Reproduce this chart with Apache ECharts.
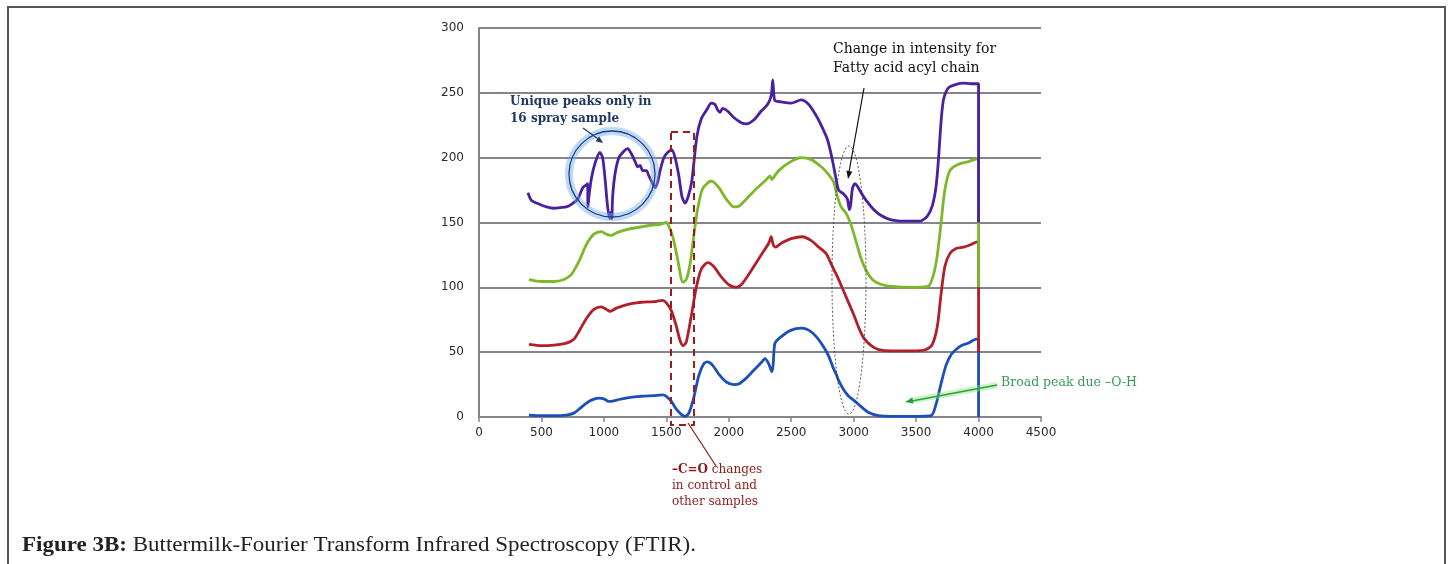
<!DOCTYPE html>
<html>
<head>
<meta charset="utf-8">
<script src="https://cdn.jsdelivr.net/npm/echarts@6/dist/echarts.min.js"></script>
<style>
html,body{margin:0;padding:0;background:#fff;}
#main{width:1453px;height:564px;}
</style>
</head>
<body>
<div id="main"></div>
<script>
// Tick values
var xTicks = [0, 500, 1000, 1500, 2000, 2500, 3000, 3500, 4000, 4500];
var yTicks = [0, 50, 100, 150, 200, 250, 300];

// Series data: [wavenumber, value]
var blueData = [[400,1.5],[500,1],[600,1],[700,1.5],[760,3],[800,6],[850,10],[900,13],[960,14.5],[1000,14],[1040,12],[1080,12.5],[1120,13.5],[1200,15],[1300,16],[1400,16.5],[1470,17],[1500,16],[1540,12],[1580,6],[1620,2],[1650,0.5],[1680,3],[1720,15],[1760,32],[1800,41],[1830,42.5],[1870,40],[1920,33],[1980,27],[2040,25],[2080,25.5],[2140,30],[2200,36],[2260,42],[2290,45],[2320,41],[2345,35],[2355,40],[2370,57],[2420,62],[2500,67],[2580,68.5],[2640,67],[2700,62],[2760,54],[2800,47],[2840,37],[2860,33],[2880,28],[2920,21],[2960,16],[3000,13],[3060,8],[3120,3.5],[3200,1],[3300,0.5],[3500,0.5],[3620,1],[3660,10],[3700,26],[3740,40],[3780,48],[3820,52],[3860,55],[3920,57],[3980,60],[4000,60],[4000,0]];

var redData = [[400,56],[500,55],[600,55.5],[700,57],[760,60],[800,66],[860,76],[920,83],[980,85],[1020,83],[1050,81.5],[1100,84],[1200,87],[1300,88.5],[1400,89],[1470,90],[1500,88],[1540,82],[1580,70],[1610,59],[1635,55],[1660,58],[1700,78],[1740,100],[1780,114],[1830,119],[1880,116],[1940,108],[2000,102],[2060,100],[2100,102],[2160,110],[2220,119],[2280,128],[2320,134],[2340,139],[2355,133],[2375,131],[2420,134],[2500,137.5],[2590,139],[2660,136],[2720,131],[2780,126],[2820,118],[2850,112],[2880,106],[2920,97],[2960,88],[3000,79],[3040,69],[3080,61],[3140,55],[3200,52],[3300,51],[3500,51],[3580,52],[3630,56],[3670,70],[3700,95],[3730,116],[3770,126],[3820,130],[3880,131],[3940,133],[3990,135],[4000,135],[4000,50]];

var greenData = [[400,106],[450,105],[500,104.5],[600,104.5],[680,106],[740,110],[800,120],[860,133],[920,141],[980,143],[1020,141],[1060,140],[1100,142],[1180,144.5],[1260,146],[1350,147.5],[1450,148.5],[1500,150],[1520,147],[1552,139],[1592,121],[1632,104],[1660,106],[1690,118],[1720,140],[1750,160],[1790,176],[1860,182],[1920,177],[1980,168],[2040,162],[2080,162.5],[2140,168],[2220,176],[2300,183],[2330,186],[2345,183],[2360,185],[2400,190],[2480,196],[2580,200],[2660,198.5],[2740,193],[2800,187],[2840,181],[2870,170],[2900,162],[2940,157],[2980,148],[3020,135],[3060,122],[3100,113],[3150,106],[3200,103],[3280,101],[3500,100],[3600,101],[3640,110],[3670,125],[3700,150],[3730,175],[3770,190],[3840,195],[3920,197],[3990,199],[4000,199],[4000,100]];

var purpleData = [[392,173],[420,167],[460,165],[540,162],[600,161],[650,161.5],[700,162],[740,164],[790,168],[832,177],[860,179],[870,180],[872,162],[880,170],[900,184],[930,196],[968,204],[990,200],[1010,183],[1030,162],[1048,153],[1058,158],[1064,153],[1070,170],[1090,188],[1120,200],[1160,205],[1190,207],[1220,203],[1250,197],[1270,193],[1290,194],[1310,190],[1340,190],[1360,186],[1390,180],[1410,177],[1430,181],[1450,190],[1480,200],[1510,204],[1544,206],[1570,200],[1600,186],[1625,170],[1650,165],[1675,170],[1704,182],[1744,216],[1780,230],[1824,237],[1860,242],[1890,241],[1910,237],[1930,235],[1950,238],[1990,236],[2040,231],[2100,227],[2140,226],[2200,229],[2260,236],[2310,241],[2340,248],[2352,260],[2360,250],[2370,244],[2420,243],[2500,242],[2580,244.5],[2640,241],[2690,234],[2730,227],[2790,214],[2830,198],[2860,183],[2880,175],[2920,172],[2950,168],[2965,160],[2975,163],[2990,176],[3010,180],[3030,178],[3060,173],[3100,167],[3160,160],[3210,156],[3300,152],[3420,151],[3530,151],[3590,155],[3630,163],[3660,178],[3680,200],[3700,228],[3720,245],[3760,254],[3820,256.5],[3880,257.5],[3940,257],[3990,257],[4000,257],[4000,150]];

var chart = echarts.init(document.getElementById('main'), null, {renderer: 'canvas'});

var gridCol = '#85858f';
var serif = '"DejaVu Serif", serif';

function arrowHead(x1, y1, x2, y2, len, w, color) {
  var a = Math.atan2(y2 - y1, x2 - x1);
  var bx = x2 - len * Math.cos(a), by = y2 - len * Math.sin(a);
  var px = -Math.sin(a) * w, py = Math.cos(a) * w;
  return {type: 'polygon', z: 100, shape: {points: [[x2, y2], [bx + px, by + py], [bx - px, by - py]]}, style: {fill: color}};
}

var graphics = [
  // frame
  {type: 'rect', z: 100, shape: {x: 8, y: 7, width: 1437, height: 570}, style: {fill: 'none', stroke: '#555', lineWidth: 2}},
  // circle glow + circle
  {type: 'circle', z: 99, shape: {cx: 612, cy: 174, r: 43}, style: {fill: 'none', stroke: 'rgba(110,170,235,0.45)', lineWidth: 8}},
  {type: 'circle', z: 100, shape: {cx: 612, cy: 174, r: 43}, style: {fill: 'none', stroke: '#1f3d7a', lineWidth: 1.3}},
  // Unique peaks text
  {type: 'text', z: 100, style: {x: 510, y: 93, text: 'Unique peaks only in\n16 spray sample', font: 'bold 12px ' + serif, fill: '#1f3864', lineHeight: 17}},
  {type: 'line', z: 100, shape: {x1: 583, y1: 128, x2: 601, y2: 141}, style: {stroke: '#1f3864', lineWidth: 1.2}},
  arrowHead(583, 128, 603, 143, 7, 3, '#1f3864'),
  // red dashed rectangle
  {type: 'rect', z: 100, shape: {x: 671, y: 132, width: 23, height: 293}, style: {fill: 'none', stroke: '#9b1c1c', lineWidth: 2, lineDash: [7, 5]}},
  {type: 'line', z: 100, shape: {x1: 688, y1: 423, x2: 716, y2: 466}, style: {stroke: '#8b1a1a', lineWidth: 1.2}},
  {type: 'text', z: 100, style: {x: 672, y: 462, text: '{b|–C=O} changes\nin control and\nother samples', font: '12px ' + serif, fill: '#8b1a1a', lineHeight: 16, rich: {b: {font: 'bold 12px ' + serif, fill: '#8b1a1a'}}}},
  // fatty acid annotation
  {type: 'text', z: 100, style: {x: 833, y: 40, text: 'Change in intensity for\nFatty acid acyl chain', font: '14px ' + serif, fill: '#111', lineHeight: 19}},
  {type: 'line', z: 100, shape: {x1: 864, y1: 88, x2: 849, y2: 172}, style: {stroke: '#111', lineWidth: 1.2}},
  arrowHead(864, 88, 848, 179, 8, 3, '#111'),
  {type: 'ellipse', z: 100, shape: {cx: 849, cy: 280, rx: 17, ry: 134}, style: {fill: 'none', stroke: '#333', lineWidth: 0.8, lineDash: [2, 2]}},
  // broad peak annotation
  {type: 'line', z: 99, shape: {x1: 997, y1: 385, x2: 910, y2: 401}, style: {stroke: 'rgba(140,230,120,0.45)', lineWidth: 6}},
  {type: 'line', z: 100, shape: {x1: 997, y1: 385, x2: 912, y2: 401}, style: {stroke: '#2e9e45', lineWidth: 1.3}},
  arrowHead(997, 385, 905, 402, 8, 3, '#2e9e45'),
  {type: 'text', z: 100, style: {x: 1001, y: 376, text: 'Broad peak due –O-H', font: '12.5px ' + serif, fill: '#3a9a5e'}},
  // caption
  {type: 'text', z: 100, x: 22, y: 536, scaleX: 1.15, style: {x: 0, y: 0, text: '{b|Figure 3B:} Buttermilk-Fourier Transform Infrared Spectroscopy (FTIR).', font: '20px "Liberation Serif", serif', fill: '#222', rich: {b: {font: 'bold 20px "Liberation Serif", serif', fill: '#222'}}}}
];

function mkSeries(name, data, color) {
  return {
    name: name, type: 'line', data: data, showSymbol: false, smooth: 0.25,
    lineStyle: {color: color, width: 2.8}, itemStyle: {color: color}, animation: false
  };
}

chart.setOption({
  animation: false,
  grid: {left: 479, right: 412, top: 28, bottom: 147, containLabel: false},
  xAxis: {
    type: 'value', min: xTicks[0], max: xTicks[xTicks.length - 1], interval: 500,
    axisLine: {show: true, lineStyle: {color: gridCol, width: 2}},
    axisTick: {show: true, length: 5, lineStyle: {color: gridCol, width: 1.5}},
    axisLabel: {color: '#2a2a2a', fontFamily: 'DejaVu Sans', fontSize: 12, margin: 10, formatter: function (v) { return String(v); }},
    splitLine: {show: false}
  },
  yAxis: {
    type: 'value', min: yTicks[0], max: yTicks[yTicks.length - 1], interval: 50,
    axisLine: {show: true, lineStyle: {color: gridCol, width: 2}},
    axisTick: {show: false},
    axisLabel: {color: '#2a2a2a', fontFamily: 'DejaVu Sans', fontSize: 12, margin: 15, formatter: function (v) { return String(v); }},
    splitLine: {show: true, lineStyle: {color: gridCol, width: 2}}
  },
  series: [
    mkSeries('Blue', blueData, '#1c4fb8'),
    mkSeries('Red', redData, '#b0202a'),
    mkSeries('Green', greenData, '#7cb82a'),
    mkSeries('Purple', purpleData, '#4a1fa0')
  ],
  graphic: graphics
});
</script>
</body>
</html>
